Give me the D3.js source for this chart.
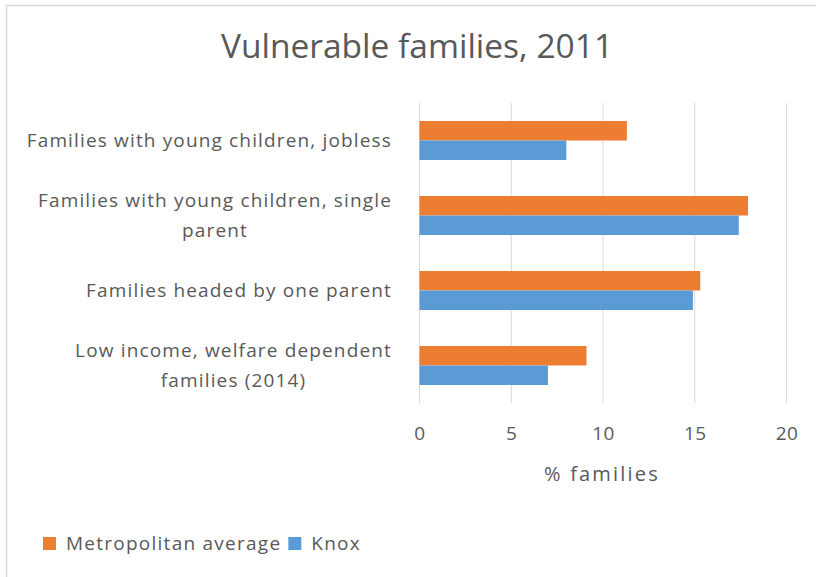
<!DOCTYPE html>
<html>
<head>
<meta charset="utf-8">
<script src="https://cdn.jsdelivr.net/npm/d3@7/dist/d3.min.js"></script>
<style>
  html, body { margin: 0; padding: 0; background: #fff; }
  svg { display: block; }
  text { font-family: "Open Sans", "DejaVu Sans", sans-serif; fill: #595959; }
</style>
</head>
<body>
<svg id="chart" width="816" height="577"></svg>
<script>
// Categories (top to bottom), each label split into its wrapped lines
const categories = [
  ["Families with young children, jobless"],
  ["Families with young children, single", "parent"],
  ["Families headed by one parent"],
  ["Low income, welfare dependent", "families (2014)"]
];
const seriesNames = ["Metropolitan average", "Knox"];
const metroValues = [11.3, 17.9, 15.3, 9.1];
const knoxValues = [8.0, 17.4, 14.9, 7.0];
const xTicks = [0, 5, 10, 15, 20];
const colors = ["#ed7d31", "#5b9bd5"];

const svg = d3.select("#chart");
const W = 816, H = 577;

// chart frame (top and left edge visible)
svg.append("line").attr("x1", 6.5).attr("x2", W).attr("y1", 5.5).attr("y2", 5.5)
  .attr("stroke", "#d9d9d9").attr("stroke-width", 1.5);
svg.append("line").attr("x1", 6.5).attr("x2", 6.5).attr("y1", 5.5).attr("y2", H)
  .attr("stroke", "#d9d9d9").attr("stroke-width", 1.5);

// title
svg.append("text")
  .attr("x", 417).attr("y", 58)
  .attr("text-anchor", "middle")
  .style("font-size", "33.5px")
  .text("Vulnerable families, 2011");

const plot = { left: 419.5, right: 786.5, top: 103, bottom: 403 };

const x = d3.scaleLinear().domain([0, 20]).range([plot.left, plot.right]);
const y = d3.scaleBand().domain(d3.range(categories.length))
  .range([plot.top, plot.bottom]).paddingInner(0.48).paddingOuter(0.24);
const ySub = d3.scaleBand().domain([0, 1]).range([0, y.bandwidth()]);

// vertical gridlines
svg.append("g")
  .selectAll("line").data(xTicks).join("line")
  .attr("x1", d => x(d)).attr("x2", d => x(d))
  .attr("y1", plot.top).attr("y2", plot.bottom)
  .attr("stroke", "#d9d9d9").attr("stroke-width", 1);

// bars
const rows = categories.map((c, i) => ({ i, vals: [metroValues[i], knoxValues[i]] }));
const g = svg.append("g").selectAll("g").data(rows).join("g")
  .attr("transform", d => `translate(0,${y(d.i)})`);
g.selectAll("rect").data(d => d.vals.map((v, k) => ({ v, k }))).join("rect")
  .attr("x", x(0))
  .attr("y", d => ySub(d.k))
  .attr("width", d => x(d.v) - x(0))
  .attr("height", ySub.bandwidth())
  .attr("fill", d => colors[d.k]);

// x axis tick labels
const xAxis = d3.axisBottom(x).tickValues(xTicks).tickSize(0).tickPadding(0);
const ax = svg.append("g").attr("transform", `translate(0,${plot.bottom})`).call(xAxis);
ax.select(".domain").remove();
ax.selectAll("text")
  .attr("y", 37).attr("dy", null)
  .style("font-size", "19px")
  .style("letter-spacing", "0.5px")
  .style("fill", "#595959")
  .style("font-family", "'Open Sans', sans-serif");

// x axis title
svg.append("text")
  .attr("x", 602).attr("y", 481)
  .attr("text-anchor", "middle")
  .style("font-size", "20px")
  .style("letter-spacing", "2.2px")
  .text("% families");

// category labels: each block right-aligned, lines centred within it
const lineH = 30;
const labelG = svg.append("g");
categories.forEach((lines, i) => {
  const cy = y(i) + y.bandwidth() / 2;
  const t = labelG.append("text")
    .style("font-size", "19px")
    .style("letter-spacing", "1.15px")
    .attr("text-anchor", "middle");
  const n = lines.length;
  lines.forEach((ln, j) => {
    t.append("tspan").attr("y", cy + (j - (n - 1) / 2) * lineH + 6.5).text(ln);
  });
  // widest line fixes the block's right edge
  let maxW = 0;
  t.selectAll("tspan").each(function () { maxW = Math.max(maxW, this.getComputedTextLength()); });
  t.selectAll("tspan").attr("x", 392 - maxW / 2);
});

// legend
const legend = svg.append("g").attr("transform", "translate(43,543)");
let lx = 0;
seriesNames.forEach((name, k) => {
  legend.append("rect").attr("x", lx).attr("y", -6).attr("width", 13).attr("height", 13).attr("fill", colors[k]);
  const t = legend.append("text").attr("x", lx + 23).attr("y", 7)
    .style("font-size", "19px").style("letter-spacing", "1.25px").text(name);
  lx += 23 + t.node().getComputedTextLength() + 7;
});
</script>
</body>
</html>
